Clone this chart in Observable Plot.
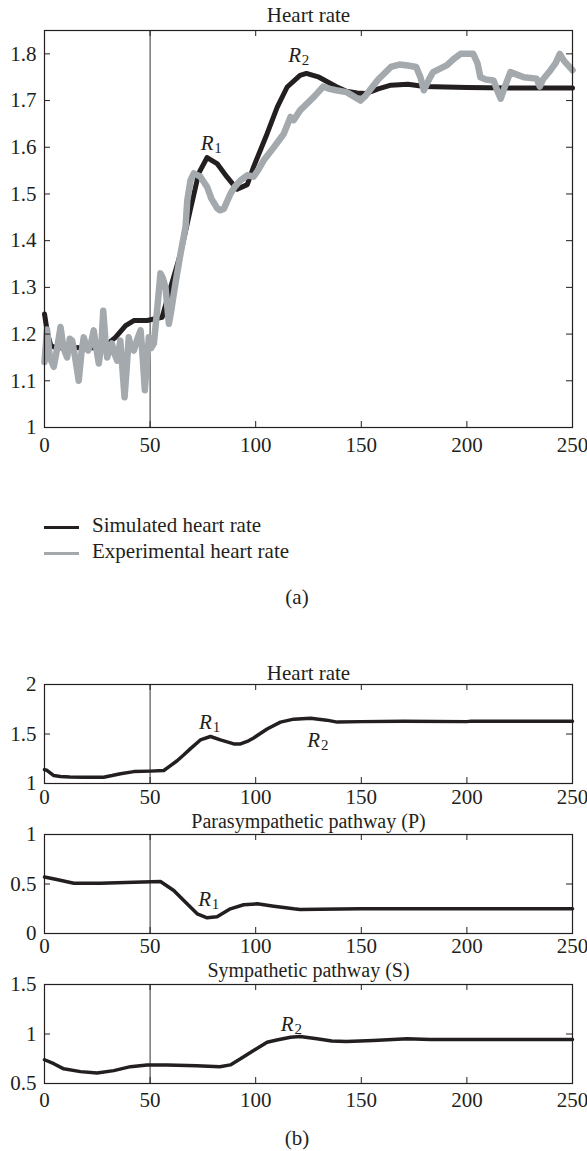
<!DOCTYPE html>
<html><head><meta charset="utf-8">
<script src="https://cdn.jsdelivr.net/npm/d3@7"></script>
<script src="https://cdn.jsdelivr.net/npm/@observablehq/plot@0.6"></script>
<style>
body{margin:0;background:#fff;}
#root{position:relative;width:587px;height:1151px;font-family:"Liberation Serif",serif;color:#231f20;overflow:hidden;}
.abs{position:absolute;}
.leg{position:absolute;left:44px;font-size:21px;line-height:22px;}
.leg span.sw{display:inline-block;width:35px;height:0;vertical-align:middle;margin-right:13px;}
</style></head><body><div id="root"></div>
<script>
// ---------- data ----------
const xTicks = [0, 50, 100, 150, 200, 250];
const eventTime = [50];

// (a) Heart rate: simulated vs experimental
const simT = [0,1.5,3,6,10,20,28,33.6,38.4,42.3,48.6,55.7,59.7,64.4,69,73,77,81.7,86.5,91.2,96,99,105.4,110.2,114.9,121,124,130,138,143,148,152,158,164,172,180,200,220,250];
const simV = [1.243,1.20,1.175,1.17,1.172,1.17,1.172,1.193,1.218,1.229,1.229,1.236,1.30,1.372,1.465,1.544,1.578,1.565,1.536,1.51,1.52,1.558,1.629,1.686,1.729,1.754,1.758,1.75,1.73,1.72,1.716,1.715,1.725,1.733,1.735,1.73,1.728,1.727,1.727];
const expT = [0,1.2,2.5,4.4,6,7.6,9,10.7,12,13.1,14.5,16.2,17.5,18.6,20,20.7,22,23.3,24.5,25.7,27,27.8,28.8,29.7,31,31.9,33,34.4,35.9,37,37.9,38.8,39.9,41,42.3,44,45.5,46.5,47.5,48.5,49.4,50.5,51.8,53.5,54.9,56,57.3,58.9,60,61.2,62.8,64.4,66.8,67.6,69.1,70.7,73.8,77,79,81.7,83,84.9,88,90,92.8,96,99,101,103.8,108.6,113.3,116.5,118,121,124.4,128,132,135,138,143,146,149.6,152,154,158,164,168,172,176,178,179.6,182,184,188,190.6,194,197,200,203,205,206.4,209,212.6,214.5,216,218,220.6,224,227,233,234.5,236,239.6,242,244,246,249,250];
const expV = [1.14,1.21,1.15,1.13,1.17,1.215,1.17,1.15,1.19,1.186,1.15,1.10,1.16,1.193,1.17,1.165,1.18,1.208,1.17,1.137,1.18,1.25,1.19,1.15,1.17,1.18,1.16,1.143,1.186,1.12,1.065,1.12,1.193,1.17,1.165,1.19,1.208,1.15,1.08,1.14,1.193,1.17,1.18,1.26,1.33,1.32,1.30,1.222,1.25,1.286,1.33,1.372,1.43,1.486,1.529,1.544,1.537,1.515,1.49,1.47,1.465,1.468,1.50,1.515,1.529,1.54,1.537,1.55,1.572,1.60,1.629,1.665,1.658,1.679,1.694,1.71,1.73,1.725,1.722,1.718,1.71,1.70,1.71,1.722,1.745,1.772,1.777,1.775,1.772,1.75,1.722,1.745,1.761,1.77,1.776,1.79,1.80,1.80,1.80,1.78,1.75,1.745,1.743,1.72,1.704,1.73,1.761,1.755,1.75,1.747,1.73,1.745,1.765,1.78,1.80,1.785,1.77,1.765];
const aYTicks = [1, 1.1, 1.2, 1.3, 1.4, 1.5, 1.6, 1.7, 1.8];
const aYDomain = [1, 1.85];
const aAnn = [{t: 77, v: 1.608, sub: "1"}, {t: 118.4, v: 1.797, sub: "2"}];

// (b) Heart rate
const hrT = [0,1.3,4.4,7.6,12,18.6,28,32,36,42.3,50,56.5,59,62.8,66,69,73.8,78.6,83.3,89.6,92.8,96,99,105.4,111.7,118,126,133.6,138.6,150,170,200,202,250];
const hrV = [1.14,1.131,1.08,1.07,1.065,1.064,1.064,1.08,1.098,1.12,1.125,1.131,1.17,1.23,1.29,1.35,1.44,1.475,1.44,1.40,1.40,1.425,1.46,1.55,1.62,1.65,1.66,1.64,1.62,1.625,1.63,1.625,1.63,1.63];
const hrYTicks = [1, 1.5, 2];
const hrAnn = [{t: 76.2, v: 1.62, sub: "1"}, {t: 127.5, v: 1.434, sub: "2"}];
// (b) Parasympathetic pathway (P)
const pT = [0,5.8,13.9,26.5,42.3,54.9,61.2,67.5,72.3,77,81.7,88,94.3,100.7,108.6,118,121,130,150,250];
const pV = [0.57,0.545,0.508,0.508,0.518,0.525,0.434,0.30,0.199,0.159,0.17,0.249,0.29,0.30,0.276,0.249,0.242,0.245,0.25,0.25];
const pYTicks = [0, 0.5, 1];
const pAnn = [{t: 75.8, v: 0.35, sub: "1"}];
// (b) Sympathetic pathway (S)
const sT = [0,4.4,9.1,17,24.9,32.8,40.7,48.6,58,72,83,88,92.8,99,105.4,110,116.5,121,129,136,143,155.7,171.7,182.7,250];
const sV = [0.74,0.70,0.648,0.62,0.605,0.63,0.67,0.688,0.688,0.68,0.67,0.688,0.749,0.833,0.917,0.94,0.968,0.975,0.951,0.93,0.924,0.934,0.951,0.945,0.945];
const sYTicks = [0.5, 1, 1.5];
const sAnn = [{t: 114.9, v: 1.103, sub: "2"}];

// ---------- drawing ----------
const INK = "#231f20";
const GRAY = "#a4a9ae";
const FONT = "Liberation Serif";
const FS = 21;
const root = document.getElementById("root");
const zip = (T, V) => T.map((t, i) => ({t, v: V[i]}));

function panel({top, height, mt, mb, yDomain, yTicks, title, titleDy, series, ann, xPad = 10, tfs = FS}) {
  const W = 587, ml = 44, mr = 15;
  const fw = W - ml - mr, fh = height - mt - mb;
  const marks = [
    Plot.ruleX(eventTime, {stroke: "#333", strokeWidth: 1}),
    ...series.map(s => Plot.line(s.data, {x: "t", y: "v", stroke: s.color, strokeWidth: s.width, strokeLinejoin: "round"})),
    Plot.frame({stroke: INK, strokeWidth: 1.2}),
    Plot.tickX(xTicks, {x: d => d, insetTop: fh - 6, stroke: INK}),
    Plot.tickX(xTicks, {x: d => d, insetBottom: fh - 6, stroke: INK}),
    Plot.tickY(yTicks, {y: d => d, insetRight: fw - 6, stroke: INK}),
    Plot.tickY(yTicks, {y: d => d, insetLeft: fw - 6, stroke: INK}),
    Plot.axisX(xTicks, {label: null, tickSize: 0, tickPadding: xPad, tickFormat: d => String(d), fontSize: FS}),
    Plot.axisY(yTicks, {label: null, tickSize: 0, tickPadding: 8, tickFormat: d => String(d), fontSize: FS}),
    Plot.text([title], {frameAnchor: "top", dy: -titleDy, lineAnchor: "middle", fontSize: tfs, fill: INK}),
    Plot.text(ann, {x: "t", y: "v", text: () => "R", fontStyle: "italic", fontSize: FS, fill: INK}),
    Plot.text(ann, {x: "t", y: "v", text: "sub", dx: 11, dy: 5, fontSize: 15, fill: INK})
  ];
  const svg = Plot.plot({
    width: W, height,
    marginLeft: ml, marginRight: mr, marginTop: mt, marginBottom: mb,
    x: {domain: [0, 250], label: null},
    y: {domain: yDomain, label: null},
    style: {fontFamily: FONT, fontSize: FS + "px", color: INK, background: "transparent", overflow: "visible"},
    marks
  });
  svg.style.position = "absolute";
  svg.style.left = "0px";
  svg.style.top = top + "px";
  root.appendChild(svg);
}

// (a)
panel({top: 0, height: 470, mt: 30, mb: 43, yDomain: aYDomain, yTicks: aYTicks,
  title: "Heart rate", titleDy: 15, xPad: 10, ann: aAnn,
  series: [
    {data: zip(simT, simV), color: INK, width: 5},
    {data: zip(expT, expV), color: GRAY, width: 6.5}
  ]});

// legend
const legendItems = [{label: "Simulated heart rate", color: INK, y: 514}, {label: "Experimental heart rate", color: GRAY, y: 540}];
for (const it of legendItems) {
  const d = document.createElement("div");
  d.className = "leg";
  d.style.top = it.y + "px";
  d.innerHTML = `<span class="sw" style="border-top:3px solid ${it.color}"></span>${it.label}`;
  root.appendChild(d);
}
function caption(txt, top) {
  const d = document.createElement("div");
  d.className = "abs";
  d.style.cssText = `top:${top}px;left:0;width:594px;text-align:center;font-size:${FS}px;line-height:22px;`;
  d.textContent = txt;
  root.appendChild(d);
}
caption("(a)", 586);

// (b)
panel({top: 645, height: 165, mt: 39, mb: 27, yDomain: [1, 2], yTicks: hrYTicks,
  title: "Heart rate", titleDy: 11, ann: hrAnn, xPad: 6,
  series: [{data: zip(hrT, hrV), color: INK, width: 3.5}]});
panel({top: 795, height: 165, mt: 39, mb: 27, yDomain: [0, 1], yTicks: pYTicks,
  title: "Parasympathetic pathway (P)", titleDy: 13, tfs: 20, ann: pAnn, xPad: 5,
  series: [{data: zip(pT, pV), color: INK, width: 3.5}]});
panel({top: 945, height: 165, mt: 39, mb: 27, yDomain: [0.5, 1.5], yTicks: sYTicks,
  title: "Sympathetic pathway (S)", titleDy: 14, tfs: 20, ann: sAnn, xPad: 9,
  series: [{data: zip(sT, sV), color: INK, width: 3.5}]});
caption("(b)", 1127);
</script></body></html>
